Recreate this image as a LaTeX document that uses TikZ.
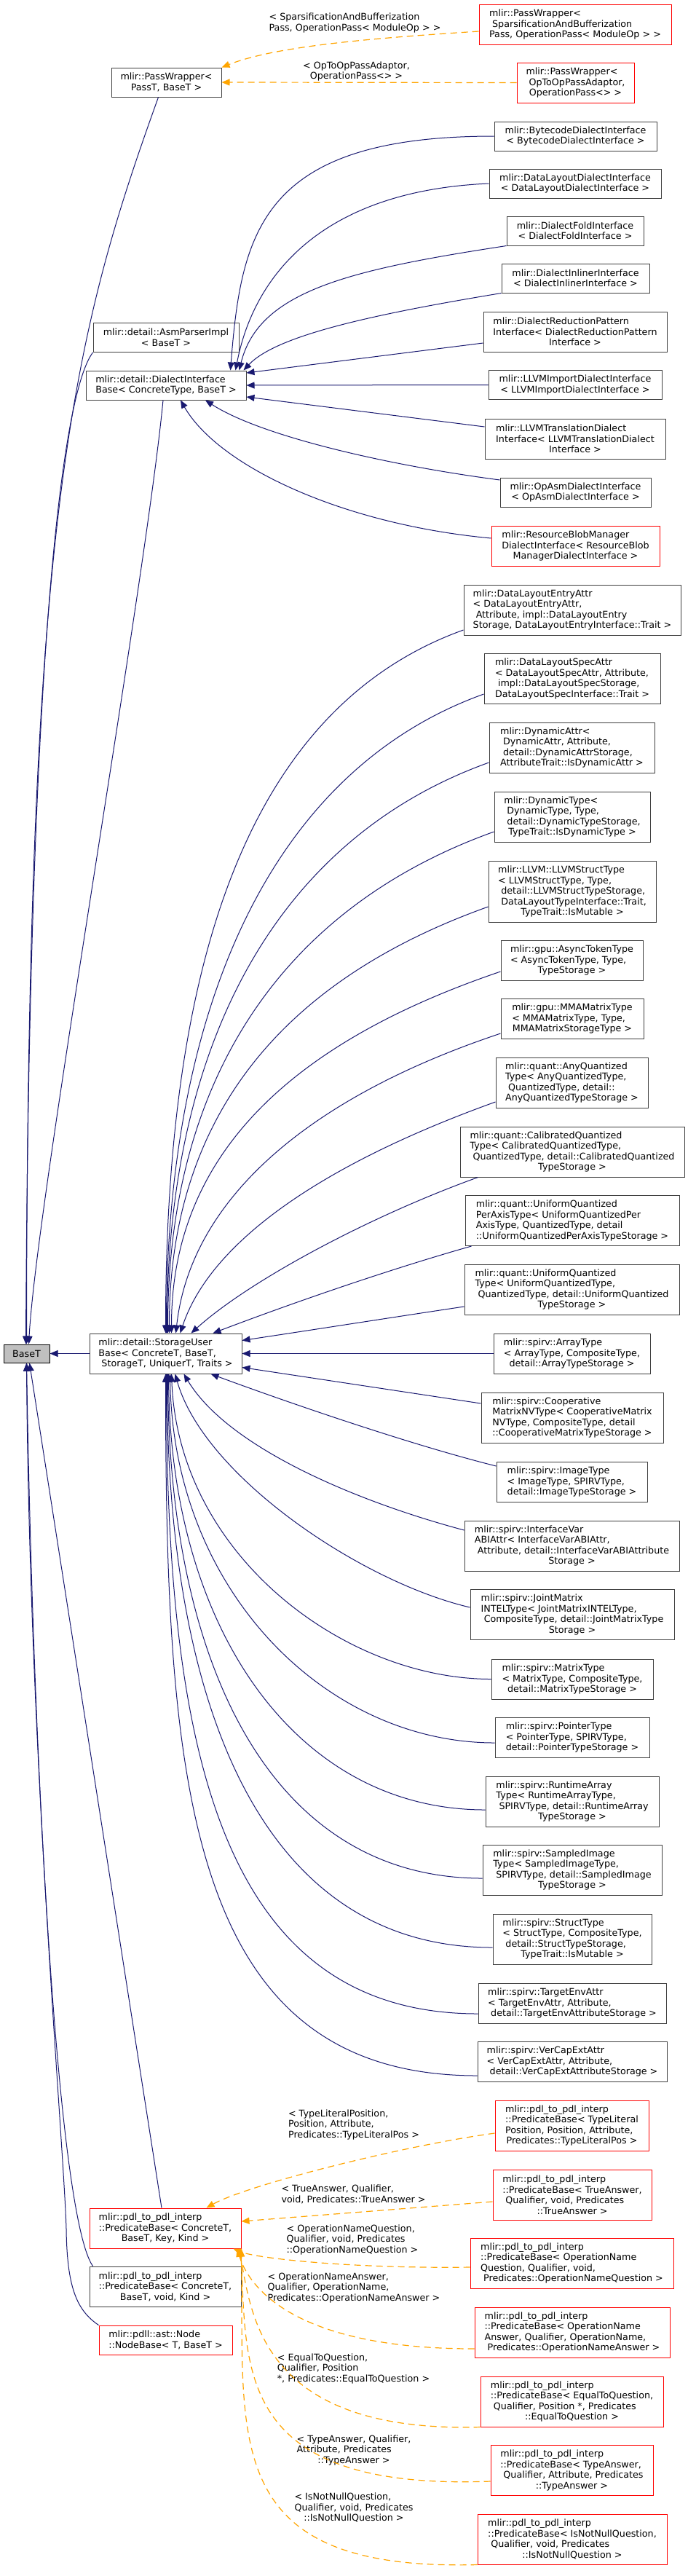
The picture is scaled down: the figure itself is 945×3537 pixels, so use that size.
\documentclass[tikz,border=0pt]{standalone}
\usepackage{fontspec}
\usepackage{tikz}
\usetikzlibrary{arrows.meta}
\newfontfamily\dxfont{DejaVu Sans}
\newcommand\dxsize{\dxfont\fontsize{12.7}{14.5}\selectfont}
\definecolor{edgeblue}{HTML}{191970}
\definecolor{edgeorange}{HTML}{FFA500}
\definecolor{boxred}{HTML}{FF0000}
\definecolor{boxgray}{HTML}{404040}
\definecolor{basefill}{HTML}{BFBFBF}

\begin{document}
\begin{tikzpicture}[x=1pt,y=-1pt,
  cls/.style={draw=boxgray,line width=1pt,fill=white,font=\dxsize,align=left,inner sep=0pt},
  undoc/.style={cls,draw=boxred},
  h1/.style={minimum height=25pt},
  h2/.style={minimum height=40pt},
  h3/.style={minimum height=55pt},
  h4/.style={minimum height=69pt},
  h5/.style={minimum height=84pt},
  lbl/.style={font=\dxsize,align=left,inner sep=0pt},
  inh/.style={draw=edgeblue,line width=1pt,-{Triangle[length=11pt,width=9pt]}},
  tmpl/.style={draw=edgeorange,line width=1.2pt,dash pattern=on 9pt off 6pt,-{Triangle[length=11pt,width=9pt]}}]
\useasboundingbox (0,0) rectangle (945,3537);
\fill[white] (0,0) rectangle (945,3537);

% left column
\node[cls,h1,fill=basefill,draw=black,minimum width=63pt] (baseT) at (36.5,1858.5) {\hfil BaseT};
\node[cls,h2,minimum width=151pt] (pw) at (228.5,113) {mlir::PassWrapper<\\\hfil PassT, BaseT >};
\node[cls,h2,minimum width=200pt] (asm) at (228,463.5) {mlir::detail::AsmParserImpl\\\hfil < BaseT >};
\node[cls,h2,minimum width=220pt] (dib) at (228,529) {mlir::detail::DialectInterface\\Base< ConcreteType, BaseT >};
\node[cls,h3,minimum width=209pt] (sub) at (227.5,1858.5) {mlir::detail::StorageUser\\Base< ConcreteT, BaseT,\\\ StorageT, UniquerT, Traits >};
\node[undoc,h3,minimum width=208pt] (pbkey) at (227,3059.5) {mlir::pdl\_to\_pdl\_interp\\::PredicateBase< ConcreteT,\\\hfil BaseT, Key, Kind >};
\node[cls,h3,minimum width=208pt] (pbvoid) at (227,3139.5) {mlir::pdl\_to\_pdl\_interp\\::PredicateBase< ConcreteT,\\\hfil BaseT, void, Kind >};
\node[undoc,h2,minimum width=183pt] (nodebase) at (227.5,3213) {mlir::pdll::ast::Node\\::NodeBase< T, BaseT >};

% PassWrapper instances
\node[undoc,h3,minimum width=264pt] (pwsparse) at (790,33.5) {mlir::PassWrapper<\\\ SparsificationAndBufferization\\Pass, OperationPass< ModuleOp > >};
\node[undoc,h3,minimum width=161pt] (pwop) at (790.5,113.5) {mlir::PassWrapper<\\\ OpToOpPassAdaptor,\\\hfil OperationPass<> >};

% dialect interfaces
\node[cls,h2,minimum width=223pt] (bytecode) at (790.5,187) {mlir::BytecodeDialectInterface\\\hfil < BytecodeDialectInterface >};
\node[cls,h2,minimum width=236pt] (dldi) at (790,252) {mlir::DataLayoutDialectInterface\\\hfil < DataLayoutDialectInterface >};
\node[cls,h2,minimum width=188pt] (fold) at (790,317) {mlir::DialectFoldInterface\\\hfil < DialectFoldInterface >};
\node[cls,h2,minimum width=203pt] (inliner) at (790.5,382) {mlir::DialectInlinerInterface\\\hfil < DialectInlinerInterface >};
\node[cls,h3,minimum width=252pt] (reduction) at (790,455.5) {mlir::DialectReductionPattern\\Interface< DialectReductionPattern\\\hfil Interface >};
\node[cls,h2,minimum width=238pt] (llvmimport) at (790,528.5) {mlir::LLVMImportDialectInterface\\\hfil < LLVMImportDialectInterface >};
\node[cls,h3,minimum width=248pt] (llvmtrans) at (790,602.5) {mlir::LLVMTranslationDialect\\Interface< LLVMTranslationDialect\\\hfil Interface >};
\node[cls,h2,minimum width=207pt] (opasm) at (790.5,676) {mlir::OpAsmDialectInterface\\\hfil < OpAsmDialectInterface >};
\node[undoc,h3,minimum width=231pt] (blob) at (790.5,749.5) {mlir::ResourceBlobManager\\DialectInterface< ResourceBlob\\\hfil ManagerDialectInterface >};

% storage users
\node[cls,h4,minimum width=298pt] (dlentry) at (786,837.5) {mlir::DataLayoutEntryAttr\\< DataLayoutEntryAttr,\\\ Attribute, impl::DataLayoutEntry\\Storage, DataLayoutEntryInterface::Trait >};
\node[cls,h4,minimum width=242pt] (dlspec) at (786,932) {mlir::DataLayoutSpecAttr\\< DataLayoutSpecAttr, Attribute,\\\ impl::DataLayoutSpecStorage,\\\hfil DataLayoutSpecInterface::Trait >};
\node[cls,h4,minimum width=227pt] (dynattr) at (785.5,1026.5) {mlir::DynamicAttr<\\\ DynamicAttr, Attribute,\\\ detail::DynamicAttrStorage,\\\hfil AttributeTrait::IsDynamicAttr >};
\node[cls,h4,minimum width=214pt] (dyntype) at (786,1121.5) {mlir::DynamicType<\\\ DynamicType, Type,\\\ detail::DynamicTypeStorage,\\\hfil TypeTrait::IsDynamicType >};
\node[cls,h5,minimum width=230pt] (llvmstruct) at (786,1224) {mlir::LLVM::LLVMStructType\\< LLVMStructType, Type,\\\ detail::LLVMStructTypeStorage,\\\ DataLayoutTypeInterface::Trait,\\\hfil TypeTrait::IsMutable >};
\node[cls,h3,minimum width=195pt] (asynctok) at (785.5,1318.5) {mlir::gpu::AsyncTokenType\\< AsyncTokenType, Type,\\\hfil TypeStorage >};
\node[cls,h3,minimum width=196pt] (mma) at (786,1398.5) {mlir::gpu::MMAMatrixType\\< MMAMatrixType, Type,\\\hfil MMAMatrixStorageType >};
\node[cls,h4,minimum width=209pt] (anyq) at (785.5,1486.5) {mlir::quant::AnyQuantized\\Type< AnyQuantizedType,\\\ QuantizedType, detail::\\\hfil AnyQuantizedTypeStorage >};
\node[cls,h4,minimum width=308pt] (calib) at (786,1581.5) {mlir::quant::CalibratedQuantized\\Type< CalibratedQuantizedType,\\\ QuantizedType, detail::CalibratedQuantized\\\hfil TypeStorage >};
\node[cls,h4,minimum width=294pt] (uqperaxis) at (786,1676) {mlir::quant::UniformQuantized\\PerAxisType< UniformQuantizedPer\\AxisType, QuantizedType, detail\\::UniformQuantizedPerAxisTypeStorage >};
\node[cls,h4,minimum width=295pt] (uq) at (785.5,1770.5) {mlir::quant::UniformQuantized\\Type< UniformQuantizedType,\\\ QuantizedType, detail::UniformQuantized\\\hfil TypeStorage >};
\node[cls,h3,minimum width=215pt] (array) at (785.5,1858.5) {mlir::spirv::ArrayType\\< ArrayType, CompositeType,\\\hfil detail::ArrayTypeStorage >};
\node[cls,h4,minimum width=250pt] (coop) at (786,1946.5) {mlir::spirv::Cooperative\\MatrixNVType< CooperativeMatrix\\NVType, CompositeType, detail\\::CooperativeMatrixTypeStorage >};
\node[cls,h3,minimum width=207pt] (image) at (785.5,2034.5) {mlir::spirv::ImageType\\< ImageType, SPIRVType,\\\hfil detail::ImageTypeStorage >};
\node[cls,h4,minimum width=295pt] (ivabi) at (785.5,2122.5) {mlir::spirv::InterfaceVar\\ABIAttr< InterfaceVarABIAttr,\\\ Attribute, detail::InterfaceVarABIAttribute\\\hfil Storage >};
\node[cls,h4,minimum width=280pt] (joint) at (786,2217) {mlir::spirv::JointMatrix\\INTELType< JointMatrixINTELType,\\\ CompositeType, detail::JointMatrixType\\\hfil Storage >};
\node[cls,h3,minimum width=222pt] (matrix) at (786,2305.5) {mlir::spirv::MatrixType\\< MatrixType, CompositeType,\\\hfil detail::MatrixTypeStorage >};
\node[cls,h3,minimum width=212pt] (pointer) at (786,2385.5) {mlir::spirv::PointerType\\< PointerType, SPIRVType,\\\hfil detail::PointerTypeStorage >};
\node[cls,h4,minimum width=238pt] (runtime) at (786,2473.5) {mlir::spirv::RuntimeArray\\Type< RuntimeArrayType,\\\ SPIRVType, detail::RuntimeArray\\\hfil TypeStorage >};
\node[cls,h4,minimum width=246pt] (sampled) at (786,2567.5) {mlir::spirv::SampledImage\\Type< SampledImageType,\\\ SPIRVType, detail::SampledImage\\\hfil TypeStorage >};
\node[cls,h4,minimum width=218pt] (struct) at (786,2662.5) {mlir::spirv::StructType\\< StructType, CompositeType,\\\ detail::StructTypeStorage,\\\hfil TypeTrait::IsMutable >};
\node[cls,h3,minimum width=258pt] (targetenv) at (786,2750.5) {mlir::spirv::TargetEnvAttr\\< TargetEnvAttr, Attribute,\\\ detail::TargetEnvAttributeStorage >};
\node[cls,h3,minimum width=260pt] (vercap) at (786,2830.5) {mlir::spirv::VerCapExtAttr\\< VerCapExtAttr, Attribute,\\\ detail::VerCapExtAttributeStorage >};

% predicate instances
\node[undoc,h4,minimum width=211pt] (pbtl) at (785.5,2918.5) {mlir::pdl\_to\_pdl\_interp\\::PredicateBase< TypeLiteral\\Position, Position, Attribute,\\\hfil Predicates::TypeLiteralPos >};
\node[undoc,h4,minimum width=218pt] (pbtrue) at (786,3013.5) {mlir::pdl\_to\_pdl\_interp\\::PredicateBase< TrueAnswer,\\\ Qualifier, void, Predicates\\\hfil ::TrueAnswer >};
\node[undoc,h4,minimum width=279pt] (pbonq) at (785.5,3107.5) {mlir::pdl\_to\_pdl\_interp\\::PredicateBase< OperationName\\Question, Qualifier, void,\\\ Predicates::OperationNameQuestion >};
\node[undoc,h4,minimum width=268pt] (pbona) at (786,3202.5) {mlir::pdl\_to\_pdl\_interp\\::PredicateBase< OperationName\\Answer, Qualifier, OperationName,\\\ Predicates::OperationNameAnswer >};
\node[undoc,h4,minimum width=251pt] (pbeq) at (785.5,3297.5) {mlir::pdl\_to\_pdl\_interp\\::PredicateBase< EqualToQuestion,\\\ Qualifier, Position *, Predicates\\\hfil ::EqualToQuestion >};
\node[undoc,h4,minimum width=223pt] (pbta) at (785.5,3392) {mlir::pdl\_to\_pdl\_interp\\::PredicateBase< TypeAnswer,\\\ Qualifier, Attribute, Predicates\\\hfil ::TypeAnswer >};
\node[undoc,h4,minimum width=260pt] (pbnn) at (786,3486.5) {mlir::pdl\_to\_pdl\_interp\\::PredicateBase< IsNotNullQuestion,\\\ Qualifier, void, Predicates\\\hfil ::IsNotNullQuestion >};

% template argument labels
\node[lbl] (lsparse) at (487.5,31.5) {< SparsificationAndBufferization\\Pass, OperationPass< ModuleOp > >};
\node[lbl] (lop) at (489.5,98) {< OpToOpPassAdaptor,\\\hfil OperationPass<> >};
\node[lbl] (ltl) at (486,2917) {< TypeLiteralPosition,\\Position, Attribute,\\Predicates::TypeLiteralPos >};
\node[lbl] (ltrue) at (485.5,3013) {< TrueAnswer, Qualifier,\\void, Predicates::TrueAnswer >};
\node[lbl] (lonq) at (484,3075) {< OperationNameQuestion,\\Qualifier, void, Predicates\\\hfil ::OperationNameQuestion >};
\node[lbl] (lona) at (486,3141) {< OperationNameAnswer,\\Qualifier, OperationName,\\Predicates::OperationNameAnswer >};
\node[lbl] (leq) at (485.5,3252) {< EqualToQuestion,\\Qualifier, Position\\*, Predicates::EqualToQuestion >};
\node[lbl] (lta) at (486,3364) {< TypeAnswer, Qualifier,\\Attribute, Predicates\\\hfil ::TypeAnswer >};
\node[lbl] (lnn) at (486,3443) {< IsNotNullQuestion,\\Qualifier, void, Predicates\\\hfil ::IsNotNullQuestion >};

% edges into BaseT
\draw[inh] ([xshift=-11pt]pw.south) .. controls (100,460) and (37,700) .. (baseT.north);
\draw[inh] (asm.south west) .. controls (85,540) and (40,900) .. ([xshift=-1pt]baseT.north);
\draw[inh] ([xshift=-4pt]dib.south) .. controls (200,800) and (50,1650) .. ([xshift=3pt]baseT.north);
\draw[inh] (sub.west) -- (baseT.east);
\draw[inh] ([xshift=-5pt]pbkey.north) -- ([xshift=4pt]baseT.south);
\draw[inh] ([xshift=5pt]pbvoid.north west) .. controls (78,3040) and (45,2400) .. (baseT.south);
\draw[inh] (nodebase.north west) .. controls (105,3172) and (92,3140) .. (91,3060) .. controls (88,2950) and (40,2400) .. (baseT.south);

% PassWrapper instances
\draw[tmpl] ([yshift=-9.5pt]pwsparse.west) .. controls +(-138,9) and +(76,-30) .. (pw.north east);
\draw[tmpl] (pwop.west) -- (pw.east);

% dialect interfaces
\draw[inh] (bytecode.west) .. controls +(-320,0) and +(15,-190) .. ([xshift=-22pt]dib.north east);
\draw[inh] (dldi.west) .. controls +(-230,10) and +(25,-130) .. ([xshift=-15pt]dib.north east);
\draw[inh] (fold.south west) .. controls +(-216,33) and +(27,-109) .. ([xshift=-10pt]dib.north east);
\draw[inh] (inliner.south west) .. controls +(-169,28) and +(46,-49) .. ([xshift=-4pt]dib.north east);
\draw[inh] ([yshift=-15.5pt]reduction.west) -- ([yshift=17pt]dib.east);
\draw[inh] (llvmimport.west) -- (dib.east);
\draw[inh] ([yshift=16.5pt]llvmtrans.west) -- ([yshift=-16pt]dib.east);
\draw[inh] ([yshift=17pt]opasm.west) .. controls (540,640) and (360,600) .. ([xshift=54pt]dib.south);
\draw[inh] ([yshift=10.5pt]blob.west) .. controls (470,720) and (300,640) .. ([xshift=20pt]dib.south);

% storage users, above
\draw[inh] ([yshift=-27.5pt]dlentry.west) .. controls +(-300,108) and +(0,-500) .. (sub.north);
\draw[inh] ([yshift=-21pt]dlspec.west) .. controls +(-290,104) and +(0,-450) .. ([xshift=1pt]sub.north);
\draw[inh] ([yshift=-20.5pt]dynattr.west) .. controls +(-290,104) and +(0,-400) .. ([xshift=2pt]sub.north);
\draw[inh] ([yshift=-20.5pt]dyntype.west) .. controls +(-290,104) and +(0,-350) .. ([xshift=3pt]sub.north);
\draw[inh] ([yshift=-21pt]llvmstruct.west) .. controls +(-280,100) and +(0,-300) .. ([xshift=5pt]sub.north);
\draw[inh] ([yshift=-15.5pt]asynctok.west) .. controls +(-280,95) and +(0,-250) .. ([xshift=8pt]sub.north);
\draw[inh] ([yshift=-20.5pt]mma.west) .. controls +(-270,90) and +(20,-180) .. ([xshift=14pt]sub.north);
\draw[inh] ([yshift=-26.5pt]anyq.west) .. controls +(-250,90) and +(40,-120) .. ([xshift=20pt]sub.north);
\draw[inh] ([xshift=25pt]calib.south west) .. controls +(-150,54) and +(80,-72) .. ([xshift=35pt]sub.north);
\draw[inh] ([xshift=9pt]uqperaxis.south west) .. controls +(-120,34) and +(100,-38) .. ([xshift=65pt]sub.north);
\draw[inh] ([yshift=-23.5pt]uq.west) .. controls +(-100,15) and +(100,-15) .. ([yshift=18pt]sub.east);
\draw[inh] (array.west) -- (sub.east);
\draw[inh] ([yshift=19.5pt]coop.west) -- ([yshift=-19pt]sub.east);

% storage users, below
\draw[inh] ([yshift=21.5pt]image.west) .. controls +(-120,-30) and +(100,37) .. ([xshift=62pt]sub.south);
\draw[inh] ([yshift=21.5pt]ivabi.west) .. controls +(-150,-40) and +(60,100) .. ([xshift=25pt]sub.south);
\draw[inh] ([yshift=10pt]joint.west) .. controls +(-150,-35) and +(40,140) .. ([xshift=13pt]sub.south);
\draw[inh] (matrix.west) .. controls +(-200,0) and +(10,250) .. ([xshift=8pt]sub.south);
\draw[inh] ([yshift=-7.5pt]pointer.west) .. controls +(-230,0) and +(5,300) .. ([xshift=6pt]sub.south);
\draw[inh] ([yshift=-11.5pt]runtime.west) .. controls +(-260,0) and +(3,350) .. ([xshift=4pt]sub.south);
\draw[inh] ([yshift=-11.5pt]sampled.west) .. controls +(-290,0) and +(2,400) .. ([xshift=3pt]sub.south);
\draw[inh] ([yshift=-11.5pt]struct.west) .. controls +(-320,0) and +(0,450) .. ([xshift=2pt]sub.south);
\draw[inh] ([yshift=-14.5pt]targetenv.west) .. controls +(-360,0) and +(0,500) .. ([xshift=1pt]sub.south);
\draw[inh] ([yshift=-19.5pt]vercap.west) .. controls +(-400,0) and +(0,560) .. (sub.south);

% predicate instances
\draw[tmpl] ([yshift=-10.5pt]pbtl.west) .. controls +(-120,16) and +(57,-32) .. ([xshift=-48pt]pbkey.north east);
\draw[tmpl] ([yshift=-9.5pt]pbtrue.west) -- ([yshift=9.5pt]pbkey.east);
\draw[tmpl] ([yshift=-5.5pt]pbonq.west) .. controls +(-166,2) and +(30,13) .. ([xshift=-11pt]pbkey.south east);
\draw[tmpl] ([yshift=-22.5pt]pbona.west) .. controls +(-232,0) and +(20,63) .. ([xshift=-6pt]pbkey.south east);
\draw[tmpl] (pbeq.south west) .. controls +(-300,8) and +(17,93) .. ([xshift=-3pt]pbkey.south east);
\draw[tmpl] ([yshift=-15pt]pbta.west) .. controls +(-354,13) and +(9,163) .. ([xshift=-1pt]pbkey.south east);
\draw[tmpl] (pbnn.south west) .. controls +(-356,9) and +(4,263) .. (pbkey.south east);
\end{tikzpicture}
\end{document}
